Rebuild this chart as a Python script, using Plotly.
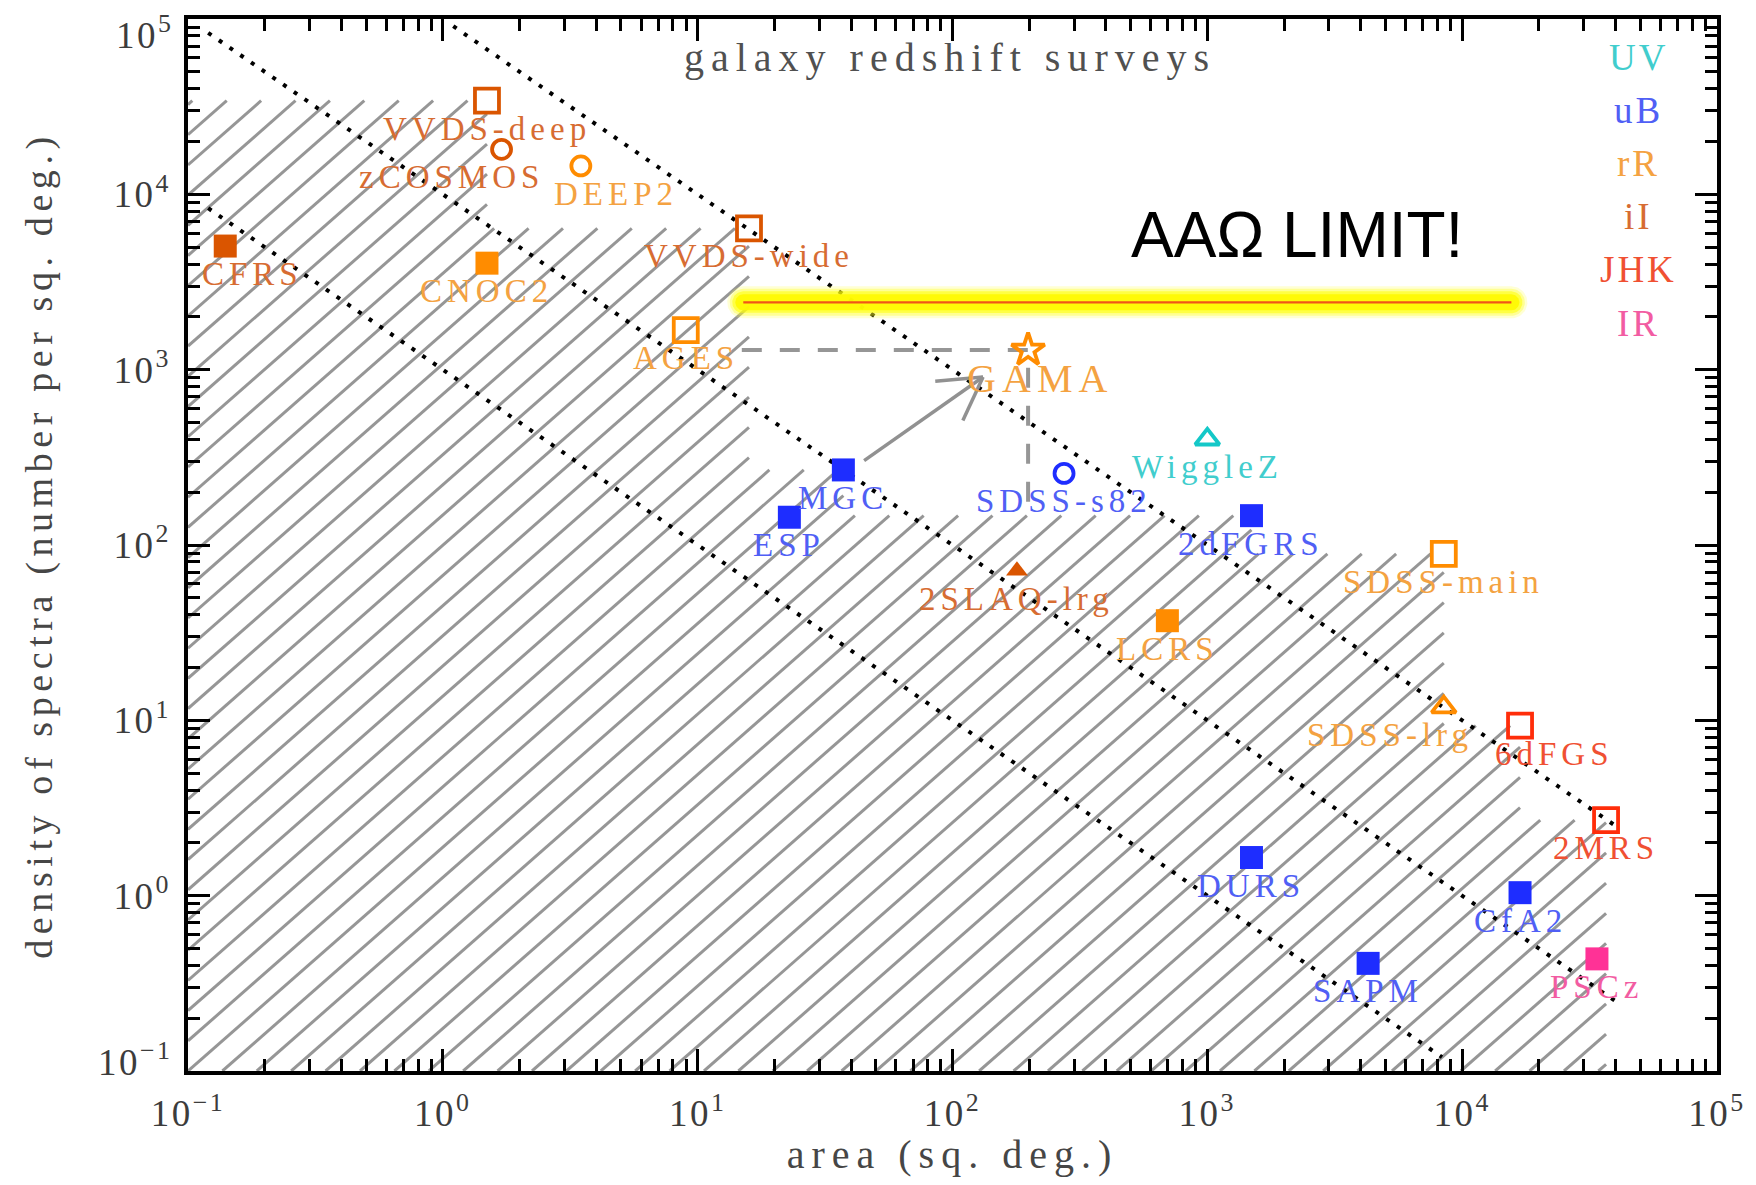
import math
import numpy as np
import plotly.graph_objects as go

# ---------------- data ----------------
surveys = ["CFRS", "VVDS-deep", "zCOSMOS", "DEEP2", "CNOC2", "VVDS-wide", "AGES", "GAMA",
           "MGC", "ESP", "SDSS-s82", "WiggleZ", "2dFGRS", "SDSS-main", "2SLAQ-lrg", "LCRS",
           "SDSS-lrg", "6dFGS", "2MRS", "DURS", "CfA2", "SAPM", "PSCz"]
area_sqdeg = [0.14, 1.49, 1.70, 3.48, 1.49, 15.9, 8.98, 198,
              37.3, 22.9, 274, 1000, 1490, 8470, 179, 697,
              8470, 16870, 36700, 1490, 16870, 4275, 33800]
density_per_sqdeg = [5070, 34200, 18070, 14520, 4050, 6400, 1683, 1294,
                     268, 144, 256, 401, 147, 89, 71.3, 37.0,
                     11.9, 9.33, 2.70, 1.65, 1.04, 0.411, 0.436]
survey_band = ["iI", "iI", "iI", "rR", "rR", "iI", "rR", "rR",
               "uB", "uB", "uB", "UV", "uB", "rR", "iI", "rR",
               "rR", "JHK", "JHK", "uB", "uB", "uB", "IR"]
# covered (hatched) region is built from completed surveys only
completed = [True, True, False, False, True, True, True, False,
             True, True, False, False, True, True, True, True,
             True, True, True, True, True, True, True]

bands = ["UV", "uB", "rR", "iI", "JHK", "IR"]

const_number_lines = [1e3, 1e4, 1e5]     # total number of spectra
full_sky_area = 41253

aao_limit_area = [15.1, 15600]
aao_limit_density = 2420
gama_box_area = [14.9, 198]
gama_box_density = [143, 1294]
arrow_from = (45.0, 303)
arrow_to = (131.8, 908)

tick_vals = [0.1, 1, 10, 100, 1000, 10000, 100000]
tick_labels = ["10<sup>\u22121</sup>", "10<sup>0</sup>", "10<sup>1</sup>", "10<sup>2</sup>",
               "10<sup>3</sup>", "10<sup>4</sup>", "10<sup>5</sup>"]
minor_vals = [m * 10.0 ** e for e in range(-1, 5) for m in range(2, 10)]

# ---------------- styles ----------------
SERIF = "Liberation Serif"
marker_color = {"UV": "rgb(20,200,200)", "uB": "rgb(30,45,255)", "rR": "rgb(255,140,0)",
                "iI": "rgb(218,85,0)", "JHK": "rgb(255,45,10)", "IR": "rgb(255,50,150)"}
text_color = {"UV": "rgb(65,205,205)", "uB": "rgb(80,95,245)", "rR": "rgb(244,162,65)",
              "iI": "rgb(215,108,50)", "JHK": "rgb(240,80,50)", "IR": "rgb(242,92,162)"}
marker_kind = ["square", "square-open", "circle-open", "circle-open", "square", "square-open",
               "square-open", "star-open", "square", "square", "circle-open", "triangle-up-open",
               "square", "square-open", "triangle-up", "square", "triangle-up-open", "square-open",
               "square-open", "square", "square", "square", "square"]
kind_size = {"square": 23, "square-open": 24, "circle-open": 19, "triangle-up-open": 21,
             "triangle-up": 19, "star-open": 25}
label_dx = {"CFRS": 27, "zCOSMOS": -50, "DEEP2": 35, "GAMA": 12, "SDSS-lrg": -54, "6dFGS": 34}
label_size = {"GAMA": 40}

# page geometry (the page body adds an 8 px margin around the figure)
PAGE_OFFSET = 8
W_FIG, H_FIG = 1740, 1169
PLOT_L, PLOT_T = 188, 19          # plot-area corner on the page
PW, PH = 1529, 1052               # plot-area size
ML, MT = PLOT_L - PAGE_OFFSET, PLOT_T - PAGE_OFFSET
MR, MB = W_FIG - ML - PW, H_FIG - MT - PH
XR, YR = (-1.0, 5.0), (-1.0, 5.0)


def lx_to_px(lx):
    return PLOT_L + (lx - XR[0]) / (XR[1] - XR[0]) * PW


def ly_to_py(ly):
    return PLOT_T + (YR[1] - ly) / (YR[1] - YR[0]) * PH


def px_to_lx(px):
    return XR[0] + (px - PLOT_L) / PW * (XR[1] - XR[0])


def py_to_ly(py):
    return YR[1] - (py - PLOT_T) / PH * (YR[1] - YR[0])


def paper_x(px):
    return (px - PLOT_L) / PW


def paper_y(py):
    return 1 - (py - PLOT_T) / PH


def spaced(text, spacing, size):
    return '<span style="font-size:%gpx;letter-spacing:%gpx">%s</span>' % (size, spacing, text)


fig = go.Figure()

# ---------------- hatched region (union of completed-survey rectangles) ----------------
rects = sorted((math.log10(a), math.log10(d))
               for a, d, c in zip(area_sqdeg, density_per_sqdeg, completed) if c)
steps = [(la, max(r[1] for r in rects[i:])) for i, (la, ld) in enumerate(rects)]
HATCH_DX_PX, HATCH_SLOPE_PX = 34.4, 0.878
k = HATCH_SLOPE_PX * (PW / 6.0) / (PH / 6.0)
dxl = HATCH_DX_PX / (PW / 6.0)
xmin, ymin = XR[0], YR[0]
Fmax = max(s[1] for s in steps)
n_lo = -int(math.ceil((Fmax - ymin) / k / dxl)) - 1
n_hi = int(math.ceil((steps[-1][0] - xmin) / dxl)) + 1
hx, hy = [], []
for n in range(n_lo, n_hi + 1):
    xs = xmin + n * dxl
    start = max(xmin, xs)
    prev, end = xmin, None
    for a, F in steps:
        xstar = xs + (F - ymin) / k
        if xstar < a:
            end = max(prev, xstar)
            break
        prev = a
    if end is None:
        end = prev
    if end <= start + 1e-9:
        continue
    ys, ye = ymin + k * (start - xs), ymin + k * (end - xs)
    hx += [10 ** start, 10 ** end, None]
    hy += [10 ** ys, 10 ** ye, None]
fig.add_trace(go.Scatter(x=hx, y=hy, mode="lines", line=dict(color="rgb(150,150,150)", width=3),
                         hoverinfo="skip"))

# ---------------- lines of constant number of spectra ----------------
DOT_MIN, DOT_YMAX = 0.12, 91000
for N in const_number_lines:
    lN = math.log10(N)
    xlo = max(math.log10(DOT_MIN), lN - math.log10(DOT_YMAX))
    xhi = min(math.log10(full_sky_area), lN - math.log10(DOT_MIN))
    fig.add_trace(go.Scatter(x=[10 ** xlo, 10 ** xhi], y=[N / 10 ** xlo, N / 10 ** xhi],
                             mode="lines", line=dict(color="black", width=4, dash="4px,9px"),
                             hoverinfo="skip"))


# ---------------- AAOmega limit (glowing line) ----------------
def stadium(a0, a1, d, r, n=30):
    x0p, x1p = lx_to_px(math.log10(a0)), lx_to_px(math.log10(a1))
    yp = ly_to_py(math.log10(d))
    pts = [(x1p + r * math.cos(t), yp + r * math.sin(t)) for t in np.linspace(-math.pi / 2, math.pi / 2, n)]
    pts += [(x0p + r * math.cos(t), yp + r * math.sin(t)) for t in np.linspace(math.pi / 2, 3 * math.pi / 2, n)]
    pts.append(pts[0])
    return ([10 ** px_to_lx(p[0]) for p in pts], [10 ** py_to_ly(p[1]) for p in pts])


for r, col in [(16, "rgba(255,255,60,0.22)"), (13.5, "rgba(255,255,30,0.35)"),
               (11, "rgba(255,255,0,0.55)"), (8, "rgba(255,250,0,0.9)")]:
    gx, gy = stadium(aao_limit_area[0], aao_limit_area[1], aao_limit_density, r)
    fig.add_trace(go.Scatter(x=gx, y=gy, mode="lines", fill="toself", fillcolor=col,
                             line=dict(width=0, color=col), hoverinfo="skip"))
fig.add_trace(go.Scatter(x=aao_limit_area, y=[aao_limit_density] * 2, mode="lines",
                         line=dict(color="rgb(240,85,25)", width=2.2), hoverinfo="skip"))

# ---------------- GAMA dashed box ----------------
fig.add_trace(go.Scatter(x=[gama_box_area[0], gama_box_area[1], gama_box_area[1]],
                         y=[gama_box_density[1], gama_box_density[1], gama_box_density[0]],
                         mode="lines", line=dict(color="rgb(150,150,150)", width=4, dash="20px,18px"),
                         hoverinfo="skip"))

# ---------------- arrow ----------------
p0 = (lx_to_px(math.log10(arrow_from[0])), ly_to_py(math.log10(arrow_from[1])))
p1 = (lx_to_px(math.log10(arrow_to[0])), ly_to_py(math.log10(arrow_to[1])))
ang = math.atan2(p0[1] - p1[1], p0[0] - p1[0])
HEAD_LEN, HEAD_ANG = 48, math.radians(30)
ax_, ay_ = [arrow_from[0], arrow_to[0]], [arrow_from[1], arrow_to[1]]
for s in (-1, 1):
    hxp = p1[0] + HEAD_LEN * math.cos(ang + s * HEAD_ANG)
    hyp = p1[1] + HEAD_LEN * math.sin(ang + s * HEAD_ANG)
    ax_ += [None, arrow_to[0], 10 ** px_to_lx(hxp)]
    ay_ += [None, arrow_to[1], 10 ** py_to_ly(hyp)]
fig.add_trace(go.Scatter(x=ax_, y=ay_, mode="lines", line=dict(color="rgb(145,145,145)", width=3.5),
                         hoverinfo="skip"))

# ---------------- survey markers ----------------
for kind in kind_size:
    idx = [i for i, m in enumerate(marker_kind) if m == kind]
    if not idx:
        continue
    cols = [marker_color[survey_band[i]] for i in idx]
    is_open = kind.endswith("open")
    fig.add_trace(go.Scatter(
        x=[area_sqdeg[i] for i in idx], y=[density_per_sqdeg[i] for i in idx],
        mode="markers", hoverinfo="x+y",
        marker=dict(symbol=kind, size=kind_size[kind], color=cols,
                    line=dict(color=cols, width=3.8 if is_open else 0))))

annotations = []
LABEL_SIZE = 33
for i, name in enumerate(surveys):
    sz = label_size.get(name, LABEL_SIZE)
    annotations.append(dict(
        x=math.log10(area_sqdeg[i]), y=math.log10(density_per_sqdeg[i]), xref="x", yref="y",
        text=spaced(name, 5 * sz / LABEL_SIZE, sz), showarrow=False, xanchor="center", yanchor="middle",
        xshift=label_dx.get(name, 0), yshift=-28,
        font=dict(family=SERIF, size=sz, color=text_color[survey_band[i]])))

# band key
for j, b in enumerate(bands):
    annotations.append(dict(
        x=paper_x(1638), y=paper_y(57 + 53.2 * j), xref="paper", yref="paper",
        text=spaced(b, 3, 37), showarrow=False, xanchor="center", yanchor="middle",
        font=dict(family=SERIF, size=37, color=text_color[b])))

annotations.append(dict(
    x=paper_x(950), y=paper_y(57), xref="paper", yref="paper",
    text=spaced("galaxy redshift surveys", 7, 40), showarrow=False, xanchor="center", yanchor="middle",
    font=dict(family=SERIF, size=40, color="rgb(80,80,80)")))
annotations.append(dict(
    x=paper_x(1297), y=paper_y(235), xref="paper", yref="paper",
    text="AA\u03a9 LIMIT!", showarrow=False, xanchor="center", yanchor="middle",
    font=dict(family="Liberation Sans", size=64, color="black")))

TICK_SIZE = 37
TICK_SP = 2.5
TICK_FONT = dict(family=SERIF, size=TICK_SIZE, color="rgb(60,60,60)")
# y-axis end labels sit a little inside the frame in the reference
y_ticktext = [""] + [spaced(t, TICK_SP, TICK_SIZE) for t in tick_labels[1:-1]] + [""]
annotations.append(dict(x=paper_x(174), y=paper_y(32), xref="paper", yref="paper",
                        text=spaced(tick_labels[-1], TICK_SP, TICK_SIZE), showarrow=False,
                        xanchor="right", yanchor="middle", borderpad=0, font=TICK_FONT))
annotations.append(dict(x=paper_x(174), y=paper_y(1059), xref="paper", yref="paper",
                        text=spaced(tick_labels[0], TICK_SP, TICK_SIZE), showarrow=False,
                        xanchor="right", yanchor="middle", borderpad=0, font=TICK_FONT))

axis_common = dict(
    type="log", showline=True, linecolor="black", linewidth=3.5,
    mirror="allticks", ticks="inside", ticklen=22, tickwidth=3, tickcolor="black",
    tickmode="array", tickvals=tick_vals,
    showgrid=False, zeroline=False, ticklabeloverflow="allow",
    tickfont=TICK_FONT,
    minor=dict(tickmode="array", tickvals=minor_vals, ticks="inside", ticklen=12,
               tickwidth=3, tickcolor="black", showgrid=False),
)
fig.update_xaxes(**axis_common, range=list(XR),
                 ticktext=[spaced(t, TICK_SP, TICK_SIZE) for t in tick_labels], ticklabelstandoff=7,
                 title=dict(text=spaced("area (sq. deg.)", 7, 40), standoff=18,
                            font=dict(family=SERIF, size=40, color="rgb(70,70,70)")))
fig.update_yaxes(**axis_common, range=list(YR), ticktext=y_ticktext, ticklabelstandoff=6,
                 title=dict(text=spaced("density of spectra (number per sq. deg.)", 5.6, 38), standoff=50,
                            font=dict(family=SERIF, size=38, color="rgb(70,70,70)")))

fig.update_layout(
    width=W_FIG, height=H_FIG, margin=dict(l=ML, r=MR, t=MT, b=MB, autoexpand=False),
    plot_bgcolor="white", paper_bgcolor="white", showlegend=False,
    font=dict(family=SERIF, size=33), annotations=annotations,
)

fig.write_html("out.html")
